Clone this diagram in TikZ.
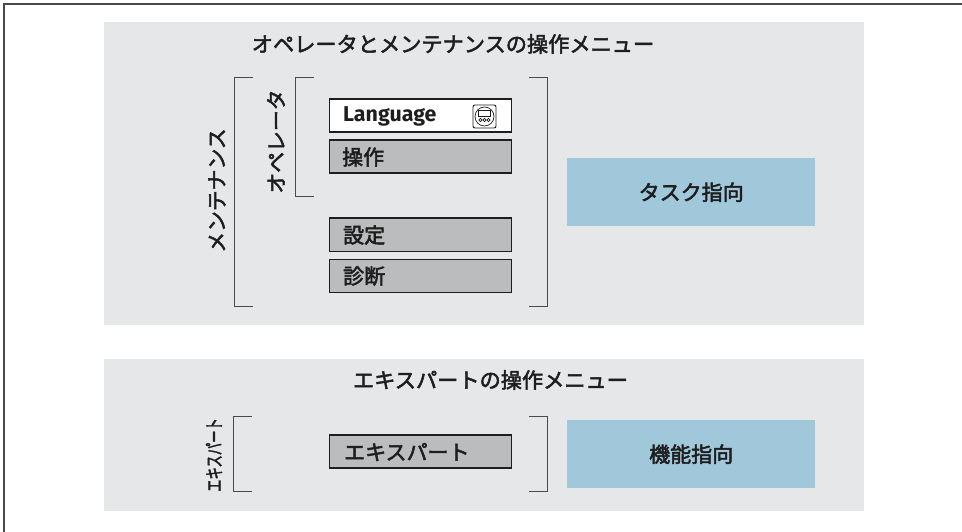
\documentclass[tikz,border=0pt]{standalone}
\usepackage{fontspec}
\usepackage{graphicx}
\setmainfont{Fira Sans}
\newfontfamily\cjk[FakeBold=2.4]{Noto Sans CJK JP}
\definecolor{panel}{HTML}{E6E7E9}
\definecolor{menubox}{HTML}{BBBCBE}
\definecolor{taskblue}{HTML}{A0C8DA}
\definecolor{ink}{HTML}{1E1E1E}
\definecolor{brk}{HTML}{4A4A4A}
\tikzset{
  x=1pt,y=-1pt,
  panelbox/.style={fill=panel,draw=none,minimum width=760pt,anchor=north west,inner sep=0pt},
  menuitem/.style={draw=ink,line width=1.5pt,fill=menubox,minimum width=182pt,minimum height=33pt,anchor=north west,inner sep=0pt},
  langitem/.style={menuitem,fill=white},
  orient/.style={fill=taskblue,draw=none,minimum width=248pt,anchor=north west,inner sep=0pt,text=ink,font=\cjk\fontsize{21}{21}\selectfont},
  title/.style={text=ink,font=\cjk\fontsize{21.2}{21}\selectfont,inner sep=0pt},
  itemlabel/.style={text=ink,font=\cjk\fontsize{21}{21}\selectfont,inner sep=0pt,anchor=west},
  sidelabel/.style={text=ink,font=\cjk\fontsize{20.8}{21}\selectfont,inner sep=0pt,rotate=90},
  bracket/.style={draw=brk,line width=1pt},
  frameline/.style={draw=brk,line width=2pt}
}
\begin{document}
\begin{tikzpicture}
\useasboundingbox (0,0) rectangle (962,532);
\draw[frameline] (4,532) -- (4,4) -- (962,4);
% panels
\node[panelbox,minimum height=303pt] (p1) at (104,22) {};
\node[panelbox,minimum height=152pt] (p2) at (104,359) {};
% titles
\node[title] (t1) at (453,44) {オペレータとメンテナンスの操作メニュー};
\node[title] (t2) at (490.5,380) {エキスパートの操作メニュー};
% menu boxes
\node[langitem] (lang) at (328.5,98.5) {};
\node[menuitem] (op) at (328.5,139.5) {};
\node[menuitem] (set) at (328.5,217.5) {};
\node[menuitem] (diag) at (328.5,258.5) {};
\node[menuitem] (exp) at (328.5,434) {};
\node[itemlabel,font=\bfseries\fontsize{21.4}{20}\selectfont] (lt) at (343,116) {Language};
\node[itemlabel] (ol) at (342,157) {操作};
\node[itemlabel] (sl) at (343,235) {設定};
\node[itemlabel] (dl) at (343,276) {診断};
\node[itemlabel] (el) at (344,452) {エキスパート};
% icon
\draw[ink,line width=0.9pt,rounded corners=2pt] (473,105) rectangle (496,128);
\draw[ink,line width=0.7pt] (484.5,116.5) circle (9.5);
\draw[ink,line width=0.7pt] (478.5,110.5) rectangle (490.5,116.5);
\foreach \cx in {480.5,484.5,488.5}
  \draw[ink,line width=0.7pt] (\cx,120) circle (1.6);
% orientation boxes
\node[orient,minimum height=68pt] (task) at (567,158) {タスク指向};
\node[orient,minimum height=68pt] (func) at (567,420) {機能指向};
% side labels
\node[sidelabel] (m) at (217,190.5) {メンテナンス};
\node[sidelabel] (o) at (276,141.5) {オペレータ};
\node[sidelabel,font=\cjk\fontsize{19}{19}\selectfont] (e) at (214,455) {\scalebox{0.65}[1]{エキスパート}};
% brackets
\draw[bracket] (253,78) -- (234,78) -- (234,306) -- (253,306);
\draw[bracket] (314,78) -- (295.5,78) -- (295.5,197) -- (314,197);
\draw[bracket] (529,78) -- (547.5,78) -- (547.5,306) -- (529,306);
\draw[bracket] (252,416) -- (233.5,416) -- (233.5,491) -- (252,491);
\draw[bracket] (529,416) -- (547.5,416) -- (547.5,491) -- (529,491);
\end{tikzpicture}
\end{document}
